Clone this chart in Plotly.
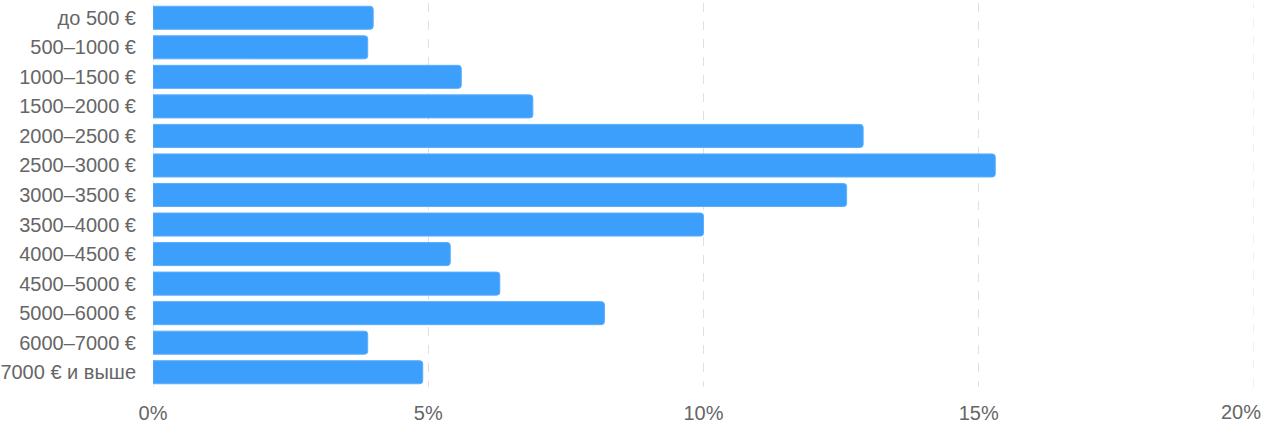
import plotly.graph_objects as go

# income brackets, top to bottom
brackets = [
    "до 500 €", "500–1000 €", "1000–1500 €", "1500–2000 €", "2000–2500 €",
    "2500–3000 €", "3000–3500 €", "3500–4000 €", "4000–4500 €", "4500–5000 €",
    "5000–6000 €", "6000–7000 €", "7000 € и выше",
]
share = [4.0, 3.9, 5.6, 6.9, 12.9, 15.3, 12.6, 10.0, 5.4, 6.3, 8.2, 3.9, 4.9]

x_ticks = [0, 5, 10, 15, 20]
x_labels = ["0%", "5%", "10%", "15%", ""]

FONT = "Liberation Sans, Arial, sans-serif"
GRID = "#e0e0e0"

fig = go.Figure(go.Bar(
    x=share,
    y=brackets,
    orientation="h",
    marker=dict(color="#3d9ffc", line=dict(color="#5aaefc", width=1), cornerradius=3),
    hoverinfo="skip",
))

# plotly drops gridlines on the plot edges, so draw the end ones by hand
for v in (x_ticks[0], x_ticks[-1]):
    fig.add_vline(x=v, line=dict(color=GRID, width=1, dash="dash"), layer="below")

# last tick label sits left of its gridline so it stays inside the page
fig.add_annotation(
    x=20, y=0, xref="x", yref="paper", text="20%",
    showarrow=False, xanchor="right", yanchor="top", xshift=9, yshift=-12,
    font=dict(family=FONT, size=20, color="#666666"),
)

fig.update_layout(
    width=1270, height=440,
    margin=dict(l=153, r=16, t=3, b=53, autoexpand=False),
    paper_bgcolor="white", plot_bgcolor="white",
    bargap=0.22,
    showlegend=False,
    font=dict(family=FONT, size=20, color="#666666"),
)
fig.update_xaxes(
    range=[0, 20], tickvals=x_ticks, ticktext=x_labels,
    showgrid=True, gridcolor=GRID, griddash="dash", gridwidth=1,
    zeroline=False, showline=False, ticks="", ticklabelstandoff=12,
    automargin=False,
)
fig.update_yaxes(
    categoryorder="array", categoryarray=brackets[::-1],
    showgrid=False, zeroline=False, showline=False,
    ticks="", ticklabelstandoff=16, automargin=False,
)

fig.write_html(
    "out.html",
    config={"displayModeBar": False},
    post_script="document.body.style.margin='0';",
)
